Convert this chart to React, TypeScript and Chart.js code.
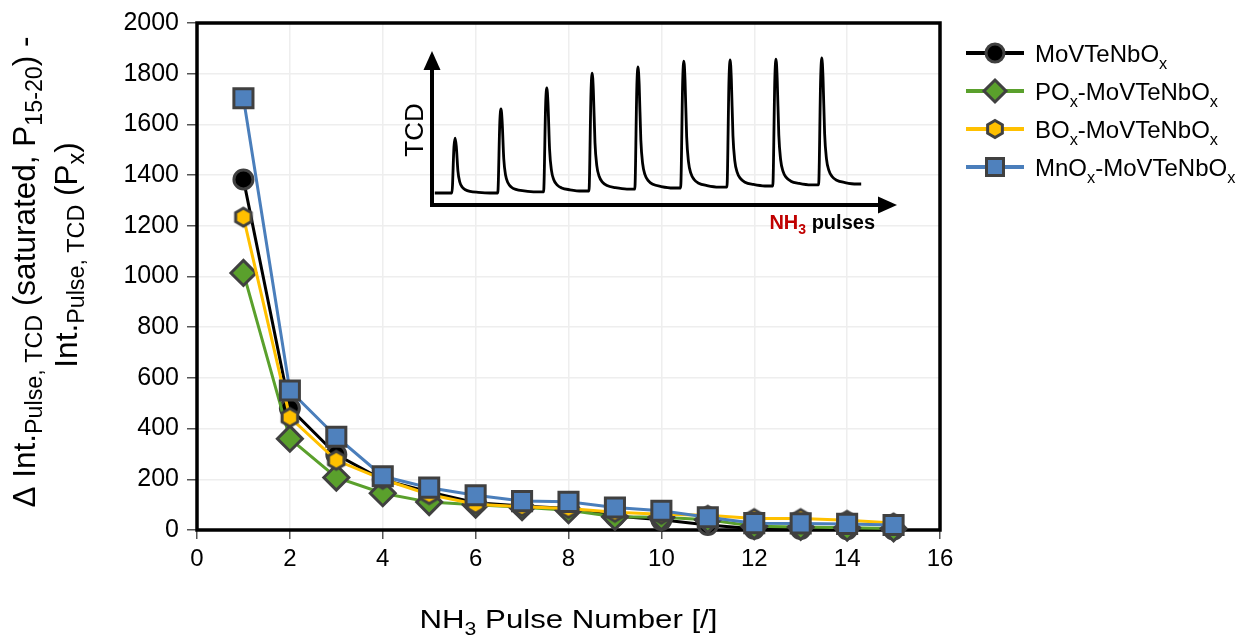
import React, { useEffect, useRef } from "react";
import { Chart, registerables } from "chart.js";

Chart.register(...registerables);

// ---------- main chart data ----------
const pulseNumbers = [1, 2, 3, 4, 5, 6, 7, 8, 9, 10, 11, 12, 13, 14, 15];
const moVTeNbOx = [1383, 480, 298, 198, 150, 108, 95, 85, 55, 40, 20, 5, 4, 3, 2];
const poxMoVTeNbOx = [1014, 360, 207, 145, 110, 100, 90, 78, 52, 50, 40, 15, 12, 9, 6];
const boxMoVTeNbOx = [1234, 444, 275, 200, 140, 102, 92, 85, 70, 62, 58, 45, 45, 38, 28];
const mnoxMoVTeNbOx = [1703, 550, 368, 212, 167, 137, 114, 111, 89, 76, 50, 27, 26, 24, 20];
const xTickValues = [0, 2, 4, 6, 8, 10, 12, 14, 16];
const yTickValues = [0, 200, 400, 600, 800, 1000, 1200, 1400, 1600, 1800, 2000];

// ---------- inset (schematic TCD trace) ----------
const insetPulseTimes = [5.0, 14.9, 24.8, 34.6, 44.5, 54.4, 64.4, 74.3, 84.2];
const insetPulseHeights = [44, 63.2, 77, 86.8, 90.8, 94.7, 95.4, 96, 96.7];
const insetBaselines = [7.9, 7.9, 8.6, 9.2, 10.5, 11.2, 11.8, 12.5, 13.2, 13.8];
const insetTraceStart = 0.6;
const insetTraceEnd = 92.7;
const peakShapeOffsets = [-0.7, -0.25, 0, 0.25, 0.6, 1.0, 1.5, 2.2, 3.2, 5.0, 7.5];
const peakShapeFractions = [0, 0.85, 1, 0.85, 0.4, 0.2, 0.11, 0.06, 0.03, 0.012, 0];

const FONT = "'Liberation Sans', Arial, Helvetica, sans-serif";
const MARKER_EDGE = "#404040";

const series = [
  { name: "MoVTeNbO", color: "#000000", fill: "#000000", marker: "circle", values: moVTeNbOx, order: 3 },
  { name: "PO", prefixSub: true, color: "#5aa02c", fill: "#5aa02c", marker: "diamond", values: poxMoVTeNbOx, order: 2 },
  { name: "BO", prefixSub: true, color: "#ffc000", fill: "#ffc000", marker: "hexagon", values: boxMoVTeNbOx, order: 1 },
  { name: "MnO", prefixSub: true, color: "#4a7ebb", fill: "#4f81bd", marker: "square", values: mnoxMoVTeNbOx, order: 0 },
];

function makeHexagon(fill: string, stroke: string, r: number, lw: number) {
  const size = Math.ceil(2 * (r + lw)) + 2;
  const c = document.createElement("canvas");
  c.width = size;
  c.height = size;
  const ctx = c.getContext("2d")!;
  drawHex(ctx, size / 2, size / 2, r, fill, stroke, lw);
  return c;
}

function drawHex(ctx: CanvasRenderingContext2D, cx: number, cy: number, r: number, fill: string, stroke: string, lw: number) {
  ctx.beginPath();
  for (let k = 0; k < 6; k++) {
    const a = -Math.PI / 2 + (k * Math.PI) / 3;
    const px = cx + r * Math.cos(a);
    const py = cy + r * Math.sin(a);
    if (k === 0) ctx.moveTo(px, py);
    else ctx.lineTo(px, py);
  }
  ctx.closePath();
  ctx.fillStyle = fill;
  ctx.fill();
  ctx.lineWidth = lw;
  ctx.strokeStyle = stroke;
  ctx.lineJoin = "miter";
  ctx.stroke();
}

function richWidth(ctx: CanvasRenderingContext2D, parts: [string, boolean][], size: number, subScale: number, weight = "normal") {
  let w = 0;
  for (const [t, sub] of parts) {
    ctx.font = `${weight} ${sub ? size * subScale : size}px ${FONT}`;
    w += ctx.measureText(t).width;
  }
  return w;
}
function drawRich(
  ctx: CanvasRenderingContext2D,
  parts: [string, boolean][],
  x: number,
  y: number,
  size: number,
  subScale: number,
  subShift: number,
  colors?: string[],
  weight = "normal"
) {
  let cx = x;
  parts.forEach(([t, sub], i) => {
    ctx.font = `${weight} ${sub ? size * subScale : size}px ${FONT}`;
    ctx.fillStyle = colors ? colors[i] : "#000";
    ctx.fillText(t, cx, sub ? y + subShift : y);
    cx += ctx.measureText(t).width;
  });
}

const framePlugin = {
  id: "frame",
  beforeDatasetsDraw(chart: any) {
    const { ctx, chartArea: a } = chart;
    ctx.save();
    ctx.strokeStyle = "#000";
    ctx.lineWidth = 3.5;
    ctx.strokeRect(a.left, a.top, a.right - a.left, a.bottom - a.top);
    ctx.restore();
  },
};

function drawMarker(ctx: CanvasRenderingContext2D, kind: string, x: number, y: number, fill: string) {
  ctx.save();
  ctx.lineWidth = 3;
  ctx.strokeStyle = MARKER_EDGE;
  ctx.fillStyle = fill;
  ctx.beginPath();
  if (kind === "circle") {
    ctx.arc(x, y, 9, 0, Math.PI * 2);
  } else if (kind === "square") {
    ctx.rect(x - 8.5, y - 8.5, 17, 17);
  } else if (kind === "diamond") {
    ctx.moveTo(x, y - 11);
    ctx.lineTo(x + 11, y);
    ctx.lineTo(x, y + 11);
    ctx.lineTo(x - 11, y);
    ctx.closePath();
  } else if (kind === "hexagon") {
    ctx.restore();
    drawHex(ctx, x, y, 8.5, fill, MARKER_EDGE, 3);
    return;
  }
  ctx.fill();
  ctx.stroke();
  ctx.restore();
}

const titlesPlugin = {
  id: "titles",
  afterDraw(chart: any) {
    const { ctx, chartArea: a } = chart;
    ctx.save();
    ctx.textBaseline = "alphabetic";
    ctx.textAlign = "left";
    // x title (slightly wide lettering as in the reference)
    const xParts: [string, boolean][] = [["NH", false], ["3", true], [" Pulse Number [/]", false]];
    const xs = 26;
    const xw = richWidth(ctx, xParts, xs, 0.68);
    const stretch = 1.2;
    ctx.save();
    ctx.translate((a.left + a.right) / 2 - (xw * stretch) / 2, a.bottom + 98);
    ctx.scale(stretch, 1);
    drawRich(ctx, xParts, 0, 0, xs, 0.68, 7);
    ctx.restore();

    // y title (two lines, rotated)
    const ys = 31.5;
    const sub = 0.74;
    const l1: [string, boolean][] = [
      ["Δ Int.", false],
      ["Pulse, TCD", true],
      [" (saturated, P", false],
      ["15-20", true],
      [") -", false],
    ];
    const l2: [string, boolean][] = [["Int.", false], ["Pulse, TCD", true], [" (P", false], ["x", true], [")", false]];
    [
      [l1, 35, 272],
      [l2, 77, 255],
    ].forEach(([parts, bx, cy]: any) => {
      ctx.save();
      ctx.translate(bx, cy);
      ctx.rotate(-Math.PI / 2);
      const w = richWidth(ctx, parts, ys, sub);
      drawRich(ctx, parts, -w / 2, 0, ys, sub, 7);
      ctx.restore();
    });

    // legend
    const rowY = [53, 91, 129, 167];
    series.forEach((s, i) => {
      const y = rowY[i];
      ctx.strokeStyle = s.color;
      ctx.lineWidth = 4;
      ctx.beginPath();
      ctx.moveTo(966, y);
      ctx.lineTo(1024, y);
      ctx.stroke();
      drawMarker(ctx, s.marker, 995, y, s.fill);
      const parts: [string, boolean][] = s.prefixSub
        ? [[s.name, false], ["x", true], ["-MoVTeNbO", false], ["x", true]]
        : [[s.name, false], ["x", true]];
      drawRich(ctx, parts, 1035, y + 9, 24, 0.68, 7);
    });
    ctx.restore();
  },
};

const insetPlugin = {
  id: "insetDecor",
  afterDraw(chart: any) {
    const { ctx, chartArea: a } = chart;
    ctx.save();
    ctx.fillStyle = "#000";
    ctx.strokeStyle = "#000";
    ctx.lineWidth = 4;
    // y arrow
    ctx.beginPath();
    ctx.moveTo(a.left, a.bottom + 2);
    ctx.lineTo(a.left, a.top + 14);
    ctx.stroke();
    ctx.beginPath();
    ctx.moveTo(a.left, a.top - 2);
    ctx.lineTo(a.left - 8.5, a.top + 17);
    ctx.lineTo(a.left + 8.5, a.top + 17);
    ctx.closePath();
    ctx.fill();
    // x arrow
    ctx.beginPath();
    ctx.moveTo(a.left - 2, a.bottom);
    ctx.lineTo(a.right - 14, a.bottom);
    ctx.stroke();
    ctx.beginPath();
    ctx.moveTo(a.right + 2, a.bottom);
    ctx.lineTo(a.right - 17, a.bottom - 8.5);
    ctx.lineTo(a.right - 17, a.bottom + 8.5);
    ctx.closePath();
    ctx.fill();
    // TCD label
    ctx.save();
    ctx.translate(a.left - 9, a.top + 77);
    ctx.rotate(-Math.PI / 2);
    ctx.font = `26px ${FONT}`;
    ctx.textAlign = "center";
    ctx.textBaseline = "alphabetic";
    ctx.fillText("TCD", 0, 0);
    ctx.restore();
    // NH3 pulses
    const parts: [string, boolean][] = [["NH", false], ["3", true], [" pulses", false]];
    const w = richWidth(ctx, parts, 20, 0.7, "bold");
    drawRich(ctx, parts, a.right - 20 - w, a.bottom + 24, 20, 0.7, 5, ["#c00000", "#c00000", "#000"], "bold");
    ctx.restore();
  },
};

function buildInsetTrace() {
  const pts: { x: number; y: number }[] = [{ x: insetTraceStart, y: insetBaselines[0] }];
  insetPulseTimes.forEach((t, i) => {
    const before = insetBaselines[i];
    const after = insetBaselines[i + 1];
    const h = insetPulseHeights[i];
    peakShapeOffsets.forEach((o, k) => {
      const f = peakShapeFractions[k];
      const base = o <= 0 ? before : after;
      pts.push({ x: t + o, y: base + f * (h - base) });
    });
  });
  pts.push({ x: insetTraceEnd, y: insetBaselines[insetBaselines.length - 1] });
  return pts;
}

export default function App() {
  const mainRef = useRef<HTMLCanvasElement>(null);
  const insetRef = useRef<HTMLCanvasElement>(null);

  useEffect(() => {
    document.body.style.margin = "0";
    const hex = makeHexagon("#ffc000", MARKER_EDGE, 9, 3);
    const datasets = series.map((s) => {
      const base: any = {
        label: s.name,
        data: pulseNumbers.map((x, i) => ({ x, y: s.values[i] })),
        borderColor: s.color,
        borderWidth: 3,
        pointBackgroundColor: s.fill,
        pointBorderColor: MARKER_EDGE,
        pointBorderWidth: 3,
        tension: 0,
        clip: false,
        order: s.order,
      };
      if (s.marker === "circle") Object.assign(base, { pointStyle: "circle", pointRadius: 9.5 });
      if (s.marker === "square") Object.assign(base, { pointStyle: "rect", pointRadius: 13.5 });
      if (s.marker === "diamond") Object.assign(base, { pointStyle: "rectRot", pointRadius: 12.5 });
      if (s.marker === "hexagon") Object.assign(base, { pointStyle: hex, pointRadius: 9 });
      return base;
    });

    const main = new Chart(mainRef.current!, {
      type: "line",
      data: { datasets },
      options: {
        animation: false,
        responsive: false,
        events: [],
        layout: { padding: { left: 0, right: 312, top: 21, bottom: 0 } },
        plugins: { legend: { display: false }, tooltip: { enabled: false } },
        scales: {
          x: {
            type: "linear",
            min: 0,
            max: 16,
            afterBuildTicks: (s: any) => {
              s.ticks = xTickValues.map((v) => ({ value: v }));
            },
            afterFit: (s: any) => {
              s.height = 106;
            },
            grid: { color: "#eeeeee", lineWidth: 1.5, tickColor: "#555", tickLength: 9, tickWidth: 1.5 } as any,
            border: { display: false },
            ticks: { color: "#000", font: { family: FONT, size: 24 }, padding: 6, maxRotation: 0, callback: (v: any) => String(v) },
          },
          y: {
            type: "linear",
            min: 0,
            max: 2000,
            afterBuildTicks: (s: any) => {
              s.ticks = yTickValues.map((v) => ({ value: v }));
            },
            afterFit: (s: any) => {
              s.width = 197;
            },
            grid: { color: "#eeeeee", lineWidth: 1.5, tickColor: "#555", tickLength: 10, tickWidth: 1.5 } as any,
            border: { display: false },
            ticks: { color: "#000", font: { family: FONT, size: 25 }, padding: 8, callback: (v: any) => String(v) },
          },
        },
      },
      plugins: [framePlugin, titlesPlugin],
    });

    const inset = new Chart(insetRef.current!, {
      type: "line",
      data: {
        datasets: [
          {
            data: buildInsetTrace(),
            borderColor: "#000",
            borderWidth: 2.8,
            pointRadius: 0,
            cubicInterpolationMode: "monotone",
            clip: false,
          } as any,
        ],
      },
      options: {
        animation: false,
        responsive: false,
        events: [],
        layout: { padding: { left: 432, right: 357, top: 53, bottom: 431 } },
        plugins: { legend: { display: false }, tooltip: { enabled: false } },
        scales: {
          x: { type: "linear", min: 0, max: 100, display: false },
          y: { type: "linear", min: 0, max: 100, display: false },
        },
      },
      plugins: [insetPlugin],
    });

    return () => {
      main.destroy();
      inset.destroy();
    };
  }, []);

  return (
    <div style={{ position: "absolute", left: 0, top: 0, width: 1252, height: 636, background: "#fff" }}>
      <canvas ref={mainRef} width={1252} height={636} style={{ position: "absolute", left: 0, top: 0 }} />
      <canvas ref={insetRef} width={1252} height={636} style={{ position: "absolute", left: 0, top: 0 }} />
    </div>
  );
}
